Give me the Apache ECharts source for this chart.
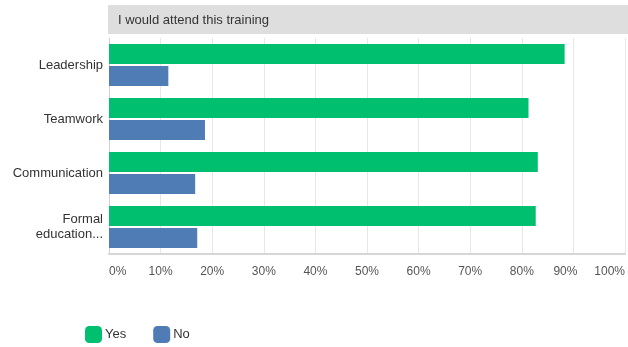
<!DOCTYPE html>
<html>
<head>
<meta charset="utf-8">
<script src="https://cdn.jsdelivr.net/npm/echarts@6/dist/echarts.min.js"></script>
<style>
  html, body { margin: 0; padding: 0; background: #ffffff; }
  #chart { width: 628px; height: 347px; }
</style>
</head>
<body>
<div id="chart"></div>
<script>
// Survey answers: share of respondents who would attend each training
const categories = ['Leadership', 'Teamwork', 'Communication', 'Formal\neducation...'];
const yesValues = [88.3, 81.3, 83.1, 82.7];
const noValues = [11.5, 18.6, 16.7, 17.1];
const tickValues = [0, 10, 20, 30, 40, 50, 60, 70, 80, 90, 100];
const questionTitle = 'I would attend this training';

const chart = echarts.init(document.getElementById('chart'), null, { renderer: 'canvas' });

const FONT = '"Liberation Sans", Arial, Helvetica, sans-serif';

chart.setOption({
  animation: false,
  backgroundColor: '#ffffff',
  graphic: [
    {
      type: 'rect',
      shape: { x: 108, y: 5, width: 520, height: 29 },
      style: { fill: '#dedede' },
      z: 0
    },
    {
      type: 'text',
      x: 118,
      y: 20,
      style: {
        text: questionTitle,
        fill: '#333333',
        font: '13px ' + FONT,
        textVerticalAlign: 'middle'
      },
      z: 1
    }
  ],
  legend: {
    data: ['Yes', 'No'],
    left: 85,
    top: 326,
    padding: 0,
    itemWidth: 17,
    itemHeight: 17,
    itemGap: 27,
    icon: 'roundRect',
    textStyle: { fontFamily: FONT, fontSize: 13, color: '#333333', padding: [0, 0, 0, -2] },
    selectedMode: false
  },
  grid: {
    left: 109,
    right: 2,
    top: 38,
    bottom: 93,
    containLabel: false
  },
  xAxis: {
    type: 'value',
    min: tickValues[0],
    max: tickValues[tickValues.length - 1],
    interval: 10,
    axisLine: { show: true, lineStyle: { color: '#d6d6d6', width: 2 } },
    axisTick: { show: false },
    splitLine: { show: true, lineStyle: { color: '#e6e6e6', width: 1 } },
    axisLabel: {
      fontFamily: FONT,
      fontSize: 12,
      color: '#555555',
      margin: 12,
      alignMinLabel: 'left',
      alignMaxLabel: 'right',
      formatter: function (v) {
        return v === 90 ? '{s|90%}' : v + '%';
      },
      rich: {
        s: { fontFamily: FONT, fontSize: 12, color: '#555555', padding: [0, 16, 0, 0] }
      }
    }
  },
  yAxis: {
    type: 'category',
    data: categories,
    inverse: true,
    axisLine: { show: true, lineStyle: { color: '#d0d0d0', width: 1 } },
    axisTick: { show: false },
    axisLabel: {
      fontFamily: FONT,
      fontSize: 13,
      color: '#333333',
      margin: 6,
      lineHeight: 15,
      align: 'right'
    }
  },
  series: [
    {
      name: 'Yes',
      type: 'bar',
      data: yesValues,
      barWidth: 20,
      barGap: '10%',
      itemStyle: { color: '#00bf6f' },
      z: 3
    },
    {
      name: 'No',
      type: 'bar',
      data: noValues,
      barWidth: 20,
      barGap: '10%',
      itemStyle: { color: '#507cb6' },
      z: 3
    }
  ]
});
</script>
</body>
</html>
